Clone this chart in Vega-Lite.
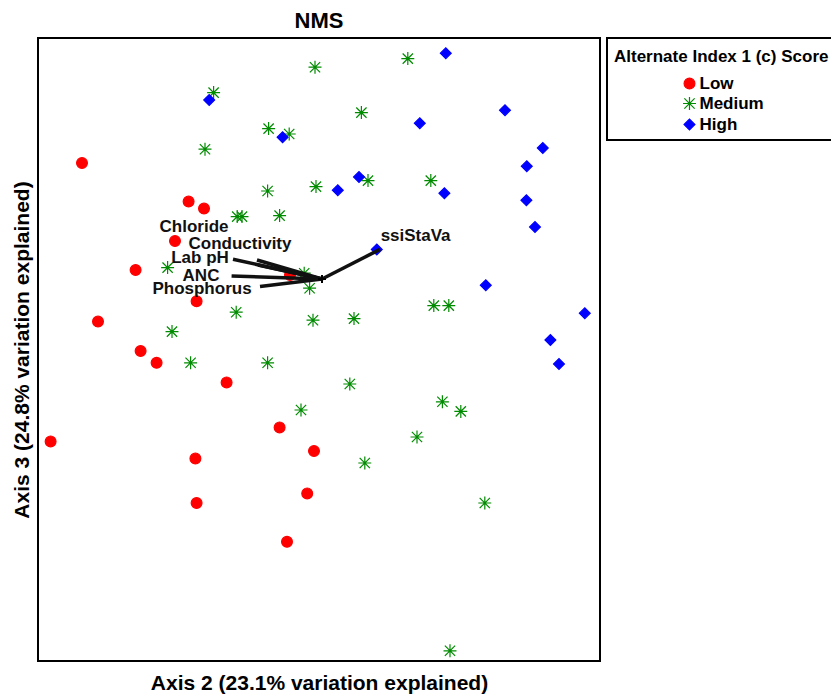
{
  "$schema": "https://vega.github.io/schema/vega-lite/v6.json",
  "width": 562,
  "height": 623,
  "autosize": {"type": "none"},
  "padding": {"left": 38, "top": 38, "right": 231, "bottom": 37},
  "background": "white",
  "title": {
    "text": "NMS",
    "font": "Liberation Sans",
    "fontSize": 22,
    "fontWeight": "bold",
    "color": "#000",
    "anchor": "middle",
    "frame": "group",
    "baseline": "alphabetic",
    "offset": 10,
    "dy": 23
  },
  "datasets": {
    "sites": [
      {"axis2": -1.19, "axis3": 0.935, "score": "Low"},
      {"axis2": -0.657, "axis3": 0.742, "score": "Low"},
      {"axis2": -0.58, "axis3": 0.707, "score": "Low"},
      {"axis2": -0.725, "axis3": 0.545, "score": "Low"},
      {"axis2": -0.922, "axis3": 0.4, "score": "Low"},
      {"axis2": -0.617, "axis3": 0.244, "score": "Low"},
      {"axis2": -1.11, "axis3": 0.142, "score": "Low"},
      {"axis2": -0.897, "axis3": -0.005, "score": "Low"},
      {"axis2": -0.817, "axis3": -0.064, "score": "Low"},
      {"axis2": -0.467, "axis3": -0.162, "score": "Low"},
      {"axis2": -0.202, "axis3": -0.387, "score": "Low"},
      {"axis2": -1.347, "axis3": -0.457, "score": "Low"},
      {"axis2": -0.03, "axis3": -0.505, "score": "Low"},
      {"axis2": -0.623, "axis3": -0.543, "score": "Low"},
      {"axis2": -0.064, "axis3": -0.717, "score": "Low"},
      {"axis2": -0.617, "axis3": -0.765, "score": "Low"},
      {"axis2": -0.165, "axis3": -0.959, "score": "Low"},
      {"axis2": -0.15, "axis3": 0.375, "score": "Low"},
      {"axis2": -0.532, "axis3": 1.287, "score": "Medium"},
      {"axis2": -0.025, "axis3": 1.414, "score": "Medium"},
      {"axis2": 0.439, "axis3": 1.457, "score": "Medium"},
      {"axis2": 0.207, "axis3": 1.187, "score": "Medium"},
      {"axis2": -0.257, "axis3": 1.107, "score": "Medium"},
      {"axis2": -0.154, "axis3": 1.08, "score": "Medium"},
      {"axis2": -0.575, "axis3": 1.004, "score": "Medium"},
      {"axis2": -0.262, "axis3": 0.795, "score": "Medium"},
      {"axis2": -0.02, "axis3": 0.817, "score": "Medium"},
      {"axis2": 0.24, "axis3": 0.847, "score": "Medium"},
      {"axis2": 0.554, "axis3": 0.847, "score": "Medium"},
      {"axis2": -0.414, "axis3": 0.667, "score": "Medium"},
      {"axis2": -0.39, "axis3": 0.667, "score": "Medium"},
      {"axis2": -0.202, "axis3": 0.672, "score": "Medium"},
      {"axis2": -0.762, "axis3": 0.412, "score": "Medium"},
      {"axis2": -0.079, "axis3": 0.384, "score": "Medium"},
      {"axis2": -0.052, "axis3": 0.309, "score": "Medium"},
      {"axis2": -0.419, "axis3": 0.189, "score": "Medium"},
      {"axis2": -0.035, "axis3": 0.149, "score": "Medium"},
      {"axis2": 0.17, "axis3": 0.157, "score": "Medium"},
      {"axis2": -0.74, "axis3": 0.092, "score": "Medium"},
      {"axis2": -0.647, "axis3": -0.064, "score": "Medium"},
      {"axis2": -0.262, "axis3": -0.064, "score": "Medium"},
      {"axis2": 0.149, "axis3": -0.17, "score": "Medium"},
      {"axis2": -0.095, "axis3": -0.3, "score": "Medium"},
      {"axis2": 0.485, "axis3": -0.435, "score": "Medium"},
      {"axis2": 0.569, "axis3": 0.222, "score": "Medium"},
      {"axis2": 0.644, "axis3": 0.222, "score": "Medium"},
      {"axis2": 0.612, "axis3": -0.259, "score": "Medium"},
      {"axis2": 0.704, "axis3": -0.307, "score": "Medium"},
      {"axis2": 0.224, "axis3": -0.565, "score": "Medium"},
      {"axis2": 0.824, "axis3": -0.765, "score": "Medium"},
      {"axis2": 0.65, "axis3": -1.504, "score": "Medium"},
      {"axis2": -0.554, "axis3": 1.25, "score": "High"},
      {"axis2": -0.187, "axis3": 1.064, "score": "High"},
      {"axis2": 0.629, "axis3": 1.484, "score": "High"},
      {"axis2": 0.499, "axis3": 1.134, "score": "High"},
      {"axis2": 0.089, "axis3": 0.799, "score": "High"},
      {"axis2": 0.195, "axis3": 0.865, "score": "High"},
      {"axis2": 0.622, "axis3": 0.784, "score": "High"},
      {"axis2": 0.925, "axis3": 1.199, "score": "High"},
      {"axis2": 1.114, "axis3": 1.01, "score": "High"},
      {"axis2": 1.034, "axis3": 0.919, "score": "High"},
      {"axis2": 1.032, "axis3": 0.749, "score": "High"},
      {"axis2": 1.075, "axis3": 0.615, "score": "High"},
      {"axis2": 0.829, "axis3": 0.324, "score": "High"},
      {"axis2": 1.324, "axis3": 0.184, "score": "High"},
      {"axis2": 1.152, "axis3": 0.05, "score": "High"},
      {"axis2": 1.195, "axis3": -0.07, "score": "High"},
      {"axis2": 0.284, "axis3": 0.503, "score": "High"}
    ],
    "vectors": [
      {"variable": "Chloride", "x0": 0.01, "y0": 0.355, "x1": -0.31, "y1": 0.425, "lx": -0.63, "ly": 0.615},
      {"variable": "Conductivity", "x0": 0.01, "y0": 0.355, "x1": -0.315, "y1": 0.45, "lx": -0.4, "ly": 0.53},
      {"variable": "Lab pH", "x0": 0.01, "y0": 0.355, "x1": -0.435, "y1": 0.454, "lx": -0.6, "ly": 0.46},
      {"variable": "ANC", "x0": 0.01, "y0": 0.355, "x1": -0.442, "y1": 0.37, "lx": -0.595, "ly": 0.37},
      {"variable": "Phosphorus", "x0": 0.01, "y0": 0.355, "x1": -0.3, "y1": 0.317, "lx": -0.59, "ly": 0.305},
      {"variable": "ssiStaVa", "x0": 0.01, "y0": 0.355, "x1": 0.3, "y1": 0.503, "lx": 0.478, "ly": 0.57}
    ]
  },
  "layer": [
    {
      "data": {"name": "sites"},
      "mark": {"type": "point", "filled": true, "opacity": 1, "size": 117, "strokeWidth": 1.2},
      "encoding": {
        "x": {
          "field": "axis2",
          "type": "quantitative",
          "scale": {"domain": [-1.41, 1.4], "nice": false, "zero": false},
          "title": "Axis 2 (23.1% variation explained)"
        },
        "y": {
          "field": "axis3",
          "type": "quantitative",
          "scale": {"domain": [-1.555, 1.56], "nice": false, "zero": false},
          "title": "Axis 3 (24.8% variation explained)"
        },
        "color": {
          "field": "score",
          "type": "nominal",
          "scale": {"domain": ["Low", "Medium", "High"], "range": ["#ff0000", "#008b00", "#0000ff"]},
          "legend": {"title": "Alternate Index 1 (c) Score"}
        },
        "stroke": {
          "field": "score",
          "type": "nominal",
          "scale": {"domain": ["Low", "Medium", "High"], "range": ["#ff0000", "#008b00", "#0000ff"]},
          "legend": {"title": "Alternate Index 1 (c) Score"}
        },
        "shape": {
          "field": "score",
          "type": "nominal",
          "scale": {
            "domain": ["Low", "Medium", "High"],
            "range": [
              "circle",
              "M-1.2,0L1.2,0M0,-1.2L0,1.2M-0.95,-0.95L0.95,0.95M-0.95,0.95L0.95,-0.95",
              "diamond"
            ]
          },
          "legend": {"title": "Alternate Index 1 (c) Score"}
        }
      }
    },
    {
      "data": {"name": "vectors"},
      "mark": {"type": "rule", "strokeWidth": 3.5, "color": "#111", "strokeCap": "butt"},
      "encoding": {
        "x": {"field": "x0", "type": "quantitative", "title": "Axis 2 (23.1% variation explained)"},
        "y": {"field": "y0", "type": "quantitative", "title": "Axis 3 (24.8% variation explained)"},
        "x2": {"field": "x1"},
        "y2": {"field": "y1"}
      }
    },
    {
      "data": {"name": "vectors"},
      "mark": {"type": "point", "shape": "M-1,0L1,0M0,-1L0,1", "size": 64, "filled": false, "stroke": "#000", "strokeWidth": 1, "opacity": 1},
      "encoding": {
        "x": {"field": "x0", "type": "quantitative", "title": "Axis 2 (23.1% variation explained)"},
        "y": {"field": "y0", "type": "quantitative", "title": "Axis 3 (24.8% variation explained)"}
      }
    },
    {
      "data": {"name": "vectors"},
      "mark": {"type": "text", "font": "Liberation Sans", "fontSize": 17, "fontWeight": "bold", "color": "#111", "align": "center", "baseline": "middle"},
      "encoding": {
        "x": {"field": "lx", "type": "quantitative", "title": "Axis 2 (23.1% variation explained)"},
        "y": {"field": "ly", "type": "quantitative", "title": "Axis 3 (24.8% variation explained)"},
        "text": {"field": "variable"}
      }
    }
  ],
  "config": {
    "view": {"stroke": "#000", "strokeWidth": 2},
    "font": "Liberation Sans",
    "axis": {
      "domain": false,
      "ticks": false,
      "labels": false,
      "grid": false,
      "titleFont": "Liberation Sans",
      "titleFontSize": 21,
      "titleFontWeight": "bold",
      "titleColor": "#000"
    },
    "axisX": {"titleBaseline": "alphabetic", "titleY": 28},
    "axisY": {"titleBaseline": "alphabetic", "titleX": -10, "titleY": 311.5, "titleAngle": -90},
    "legend": {
      "orient": "none",
      "legendX": 569,
      "legendY": 0,
      "padding": 7,
      "strokeColor": "#000",
      "strokeWidth": 2,
      "fillColor": "white",
      "cornerRadius": 0,
      "titleFont": "Liberation Sans",
      "titleFontSize": 17,
      "titleFontWeight": "bold",
      "titleColor": "#000",
      "titleBaseline": "line-top",
      "titleLineHeight": 25,
      "titlePadding": 13,
      "titleLimit": 400,
      "labelFont": "Liberation Sans",
      "labelFontSize": 17,
      "labelFontWeight": "bold",
      "labelColor": "#000",
      "labelLimit": 300,
      "symbolSize": 117,
      "symbolStrokeWidth": 1.2,
      "symbolOffset": 67,
      "labelOffset": 1.5,
      "rowPadding": 2,
      "symbolOpacity": 1
    }
  }
}
